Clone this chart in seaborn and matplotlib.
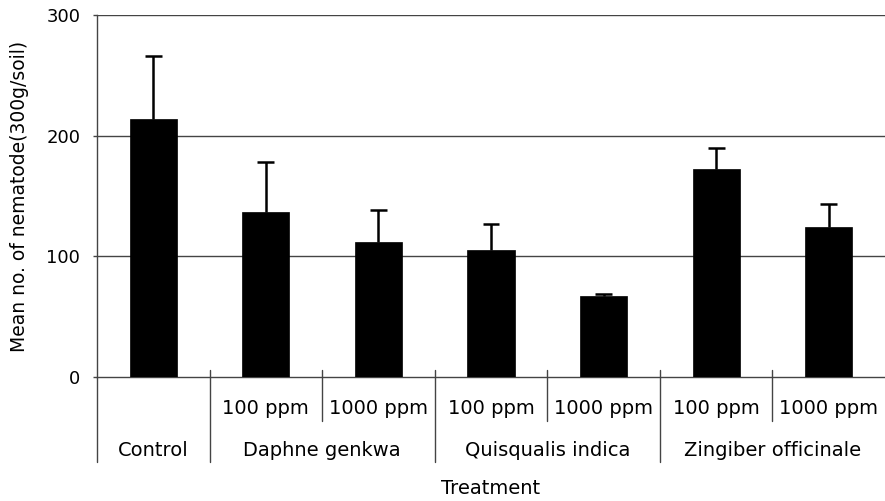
import matplotlib
matplotlib.use("Agg")
import matplotlib.pyplot as plt
import seaborn as sns
import pandas as pd
import numpy as np

groups = ["Control", "Daphne genkwa", "Quisqualis indica", "Zingiber officinale"]
doses = ["", "100 ppm", "1000 ppm", "100 ppm", "1000 ppm", "100 ppm", "1000 ppm"]
treatments = ["Control", "DG100", "DG1000", "QI100", "QI1000", "ZO100", "ZO1000"]
means = [214, 137, 112, 105, 67, 172, 124]
errors = [52, 41, 26, 22, 1.5, 18, 19]
yticks = [0, 100, 200, 300]

sns.set_theme(style="white")
plt.rcParams['font.family'] = ['DejaVu Sans']
plt.rcParams['text.color'] = 'black'
plt.rcParams['axes.labelcolor'] = 'black'

W, H = 885, 501
fig = plt.figure(figsize=(W / 100, H / 100), dpi=100)
x0, x1, yb, yt = 97, 885, 377, 15
ax = fig.add_axes([x0 / W, (H - yb) / H, (x1 - x0) / W, (yb - yt) / H])

df = pd.DataFrame({"treatment": treatments, "mean": means})
sns.barplot(data=df, x="treatment", y="mean", color="black", width=0.42,
            errorbar=None, ax=ax, saturation=1, edgecolor="black", linewidth=0.5,
            zorder=3)
pos = np.arange(len(treatments))
tops = np.array(means) + np.array(errors)
ax.vlines(pos, means, tops, color="black", lw=1.8, zorder=4)
ax.hlines(tops, pos - 0.075, pos + 0.075, color="black", lw=1.8, zorder=4)

ax.set_xlim(-0.5, len(treatments) - 0.5)
ax.set_ylim(0, 300)
ax.set_yticks(yticks)
ax.set_yticklabels([str(v) for v in yticks], fontsize=13, color="black")
for v in yticks[1:]:
    ax.axhline(v, color="#444444", lw=1.0, zorder=1)
for s in ["top", "right"]:
    ax.spines[s].set_visible(False)
for s in ["left", "bottom"]:
    ax.spines[s].set_color("#444444")
    ax.spines[s].set_linewidth(1.0)
ax.tick_params(axis="y", left=True, length=3, width=1, color="#444444", pad=9)
ax.set_xticks([])
ax.set_xlabel("")
ax.set_ylabel("Mean no. of nematode(300g/soil)", fontsize=13.5, color="black")
ax.yaxis.set_label_coords((29 - x0) / (x1 - x0), 0.5)

tr = ax.get_xaxis_transform()
frac = lambda px: (yb - px) / (yb - yt)
for b in range(1, len(treatments)):
    xb = b - 0.5
    bottom = 462 if b in (1, 3, 5) else 421
    ax.plot([xb, xb], [frac(370), frac(bottom)], transform=tr, color="#444444",
            lw=1.0, clip_on=False, zorder=5)
ax.plot([-0.5, -0.5], [0, frac(462)], transform=tr, color="#444444", lw=1.0, clip_on=False)

fs = 14
for i, d in enumerate(doses):
    if d:
        ax.text(i, frac(409), d, transform=tr, ha="center", va="center", fontsize=fs)
group_centers = [0, 1.5, 3.5, 5.5]
for g, c in zip(groups, group_centers):
    ax.text(c, frac(450), g, transform=tr, ha="center", va="center", fontsize=fs)
ax.text(0.5, frac(489), "Treatment", transform=ax.transAxes, ha="center", va="center",
        fontsize=fs)

fig.savefig("out.png", dpi=100)
